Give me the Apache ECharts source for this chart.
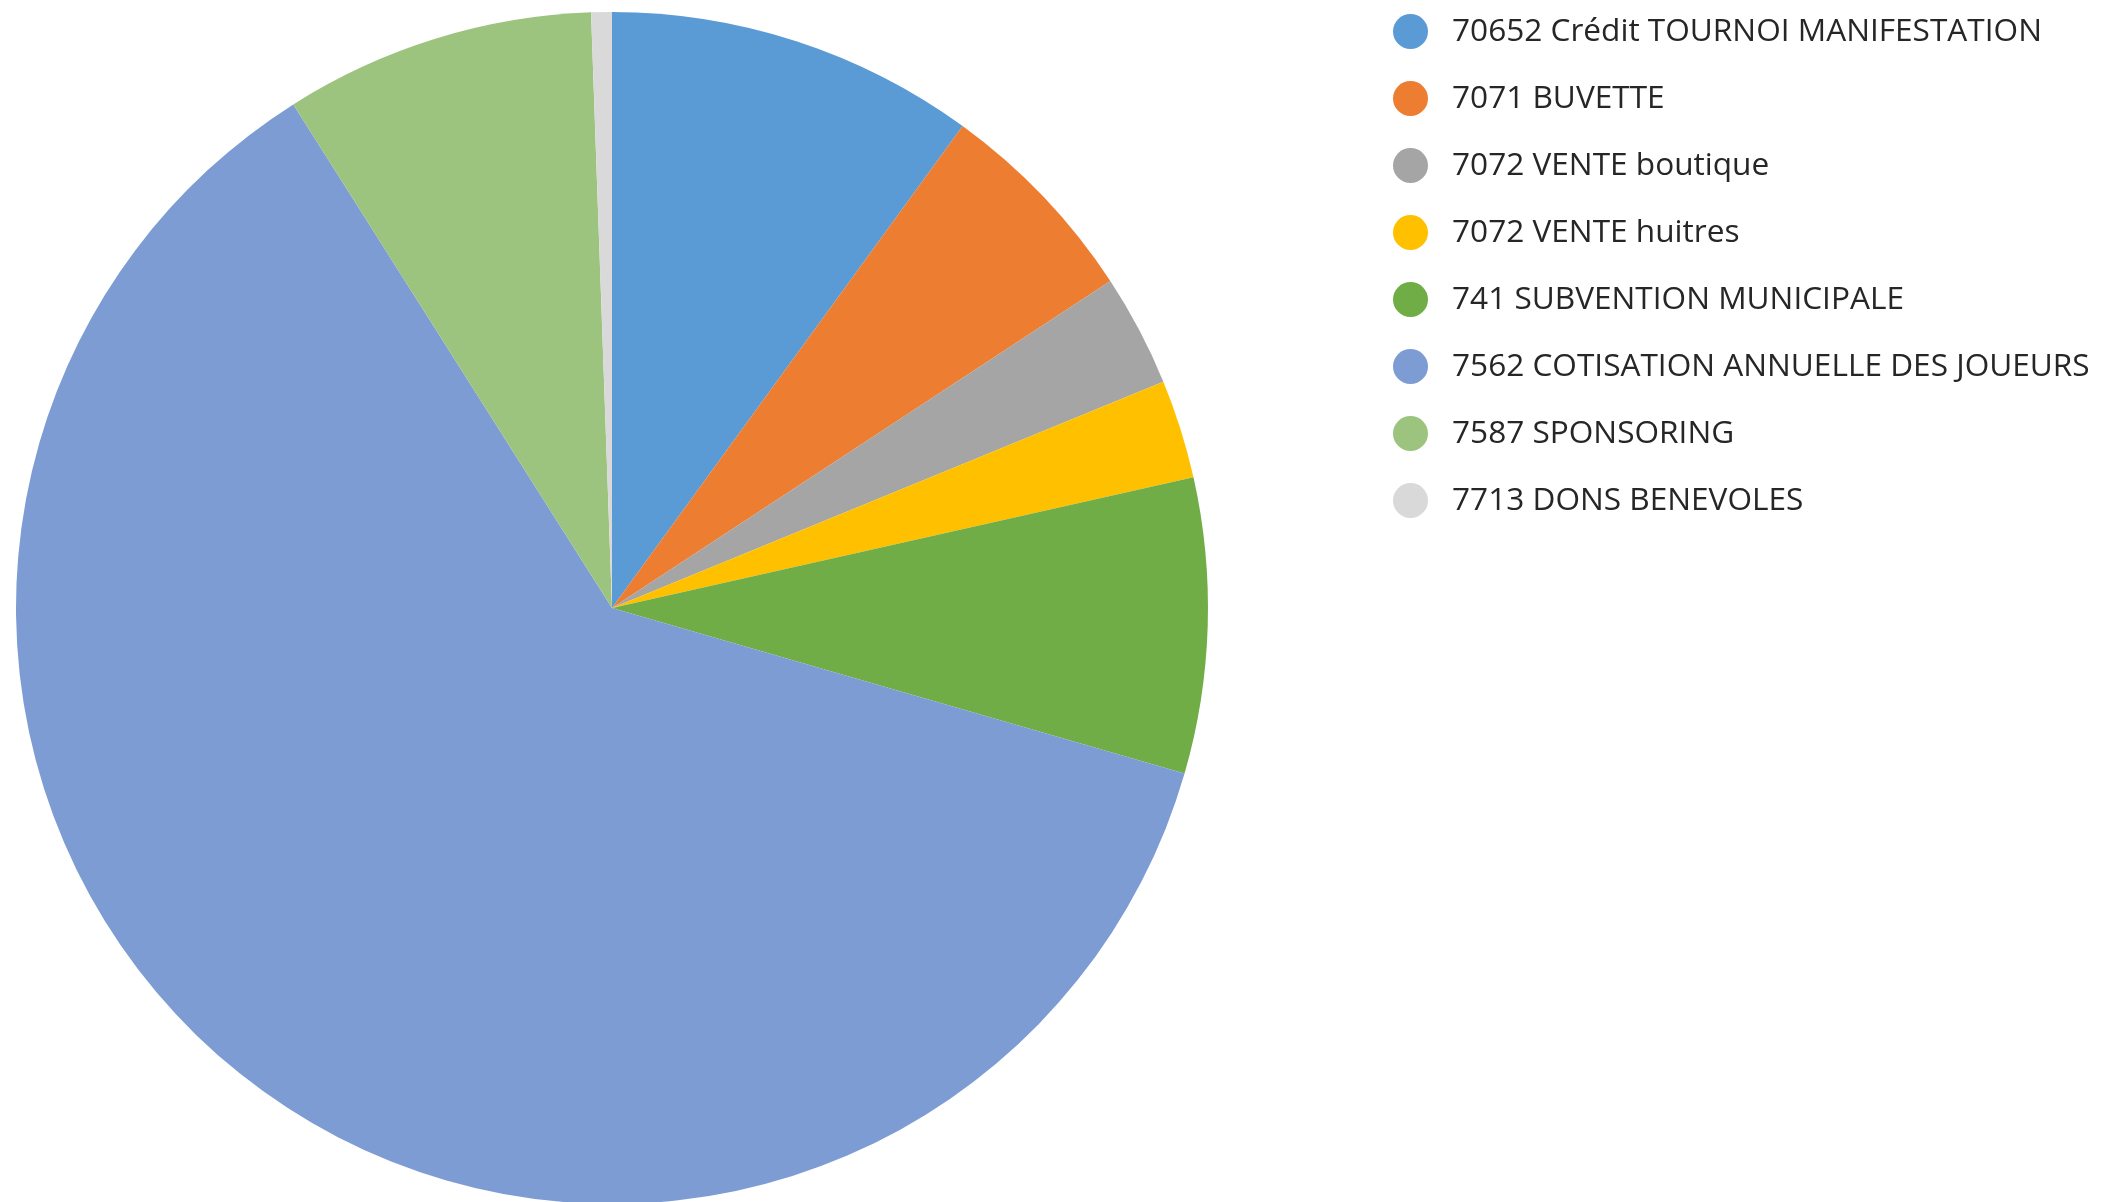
<!DOCTYPE html>
<html>
<head>
<meta charset="utf-8">
<script src="https://cdn.jsdelivr.net/npm/echarts@6/dist/echarts.min.js"></script>
<style>html,body{margin:0;padding:0;background:#fff;}#c{width:2101px;height:1202px;}</style>
</head>
<body>
<div id="c"></div>
<script>
const categories = [
  "70652 Crédit TOURNOI MANIFESTATION",
  "7071 BUVETTE",
  "7072 VENTE boutique",
  "7072 VENTE huitres",
  "741 SUBVENTION MUNICIPALE",
  "7562 COTISATION ANNUELLE DES JOUEURS",
  "7587 SPONSORING",
  "7713 DONS BENEVOLES"
];
const values = [10.01, 5.75, 3.04, 2.68, 8.0, 61.54, 8.42, 0.56];
const colors = ["#5B9BD5", "#ED7D31", "#A5A5A5", "#FFC000", "#70AD47", "#7E9CD4", "#9DC47E", "#D9D9D9"];

const chart = echarts.init(document.getElementById('c'));
chart.setOption({
  animation: false,
  backgroundColor: '#ffffff',
  color: colors,
  legend: {
    orient: 'vertical',
    left: 1388,
    top: 9,
    icon: 'circle',
    itemWidth: 35,
    itemHeight: 35,
    itemGap: 32,
    textStyle: { fontFamily: 'Open Sans', fontSize: 31.6, color: '#262626', padding: [0, 0, 0, 19] },
    data: categories
  },
  series: [{
    type: 'pie',
    center: [612, 608],
    radius: [0, 596],
    startAngle: 90,
    clockwise: true,
    label: { show: false },
    labelLine: { show: false },
    emphasis: { disabled: true },
    itemStyle: { borderWidth: 0 },
    data: categories.map((n, i) => ({ name: n, value: values[i] }))
  }]
});
</script>
</body>
</html>
